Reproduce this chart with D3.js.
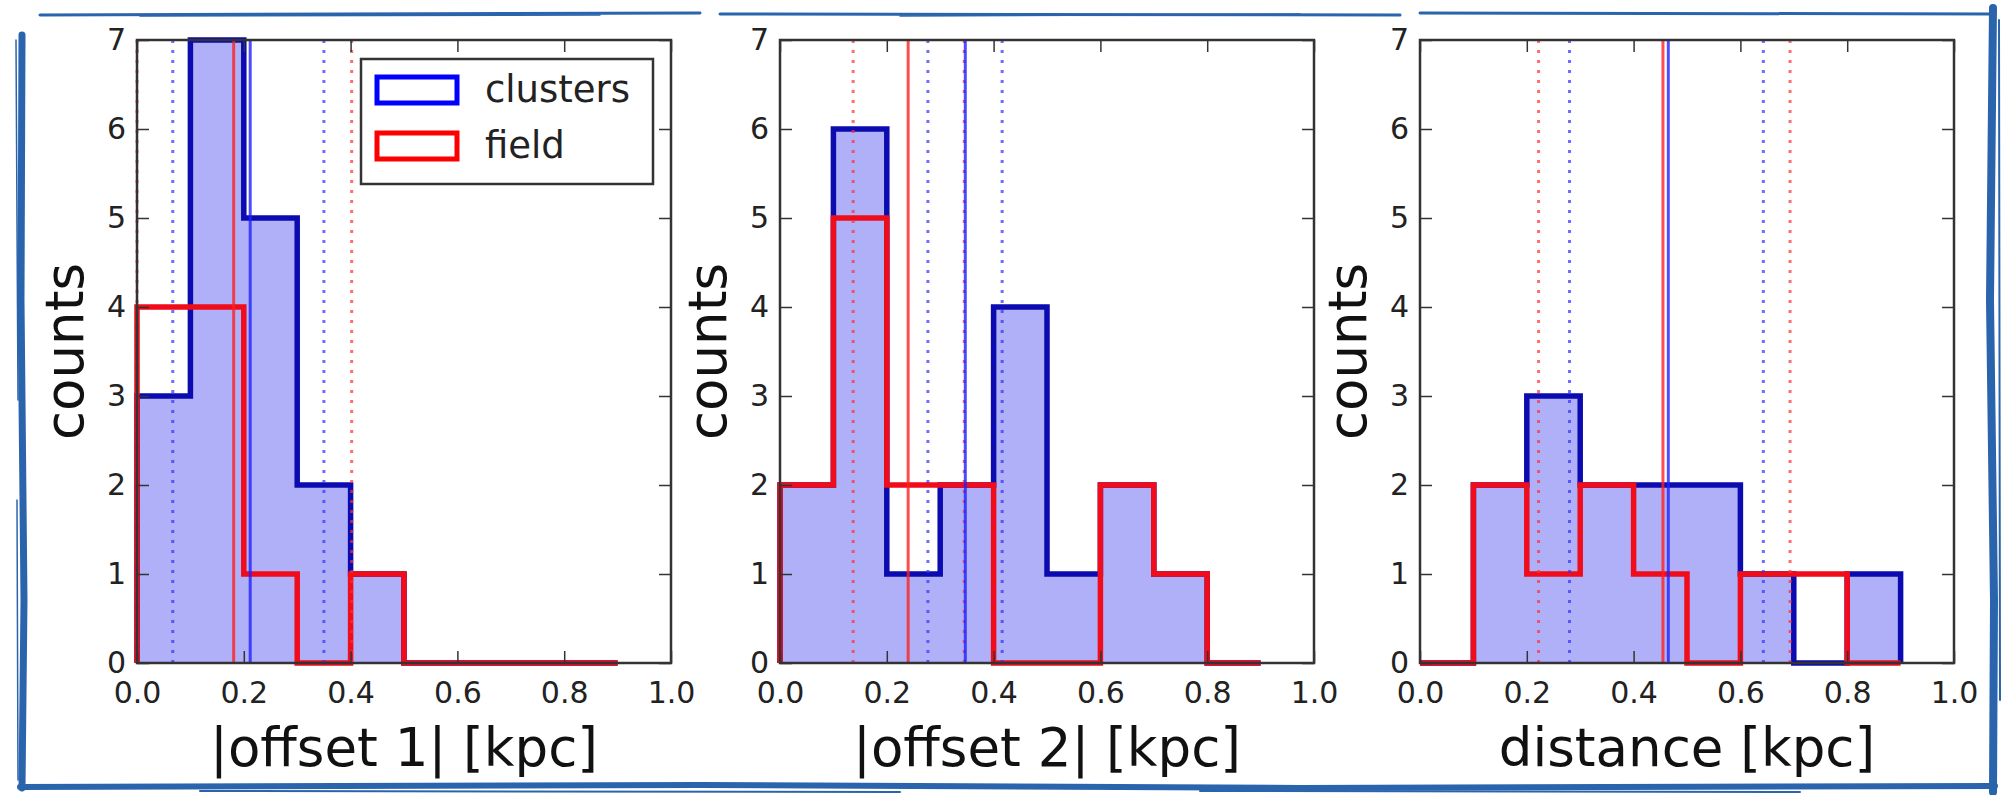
<!DOCTYPE html>
<html>
<head>
<meta charset="utf-8">
<script src="https://cdn.jsdelivr.net/npm/d3@7"></script>
<style>
  body { margin: 0; background: #fff; }
  svg { display: block; font-family: "DejaVu Sans", sans-serif; }
</style>
</head>
<body>
<div id="chart"></div>
<script>
// histogram data (bins of 0.1 kpc)
const binEdges = [0.0, 0.1, 0.2, 0.3, 0.4, 0.5, 0.6, 0.7, 0.8, 0.9];
const xLabels = ["|offset 1| [kpc]", "|offset 2| [kpc]", "distance [kpc]"];

const clusters1 = [3, 7, 5, 2, 1, 0, 0, 0, 0];
const field1    = [4, 4, 1, 0, 1, 0, 0, 0, 0];
const clusters2 = [2, 6, 1, 2, 4, 1, 2, 1, 0];
const field2    = [2, 5, 2, 2, 0, 0, 2, 1, 0];
const clusters3 = [0, 2, 3, 2, 2, 2, 1, 0, 1];
const field3    = [0, 2, 1, 2, 1, 0, 1, 1, 0];

// medians and the two percentile lines for each panel
const clustersMedian = [0.212, 0.347, 0.465];
const clustersLow    = [0.067, 0.277, 0.280];
const clustersHigh   = [0.350, 0.416, 0.643];
const fieldMedian    = [0.181, 0.240, 0.455];
const fieldLow       = [0.000, 0.137, 0.222];
const fieldHigh      = [0.402, 0.345, 0.693];

const xTicks = [0.0, 0.2, 0.4, 0.6, 0.8, 1.0];
const yTicks = [0, 1, 2, 3, 4, 5, 6, 7];
const legendNames = ["clusters", "field"];

const W = 2006, H = 795;
const panelX = [137, 780, 1420];
const panelW = 534;
const plotTop = 40, plotBottom = 663;

const blueEdge = "#0b0bb0", redEdge = "#f00c1a", blueFill = "#b0b0f8";

const svg = d3.select("#chart").append("svg")
  .attr("width", W)
  .attr("height", H);

svg.append("rect").attr("width", W).attr("height", H).attr("fill", "#fff");

// sketchy blue frame round the figure
const frame = svg.append("g")
  .attr("fill", "none")
  .attr("stroke", "#2a64ad")
  .attr("stroke-linecap", "round");
frame.append("path").attr("d", "M40,15 L700,13 M720,14 L1400,15 M1420,13 L1995,14").attr("stroke-width", 3);
frame.append("path").attr("d", "M140,16 L600,15 M900,16 L1300,14").attr("stroke-width", 1.5);
frame.append("path").attr("d", "M22,35 L21,300 L24,600 L22,788").attr("stroke-width", 7);
frame.append("path").attr("d", "M16,40 L18,400 M17,500 L18,780").attr("stroke-width", 1.5);
frame.append("path").attr("d", "M1993,8 L1990,300 L1994,600 L1993,792").attr("stroke-width", 8);
frame.append("path").attr("d", "M1999,20 L2000,700").attr("stroke-width", 2);
frame.append("path").attr("d", "M20,787 L700,785 L1300,788 L1995,786").attr("stroke-width", 6);
frame.append("path").attr("d", "M200,791 L900,792 M1200,791 L1800,792").attr("stroke-width", 2);

const y = d3.scaleLinear().domain([0, 7]).range([plotBottom, plotTop]);

const panels = [
  { clusters: clusters1, field: field1 },
  { clusters: clusters2, field: field2 },
  { clusters: clusters3, field: field3 }
];

// step outline like matplotlib histtype="step"
function stepPoints(counts) {
  const pts = [[binEdges[0], 0]];
  counts.forEach((c, i) => {
    pts.push([binEdges[i], c]);
    pts.push([binEdges[i + 1], c]);
  });
  pts.push([binEdges[counts.length], 0]);
  return pts;
}

panels.forEach((p, k) => {
  const x = d3.scaleLinear().domain([0, 1]).range([panelX[k], panelX[k] + panelW]);
  const g = svg.append("g");
  const line = d3.line().x(d => x(d[0])).y(d => y(d[1]));

  // filled clusters histogram
  g.append("path")
    .attr("d", line(stepPoints(p.clusters)) + "Z")
    .attr("fill", blueFill);

  g.append("path")
    .attr("d", line(stepPoints(p.clusters)))
    .attr("fill", "none")
    .attr("stroke", blueEdge)
    .attr("stroke-width", 5.5);

  g.append("path")
    .attr("d", line(stepPoints(p.field)))
    .attr("fill", "none")
    .attr("stroke", redEdge)
    .attr("stroke-width", 5.5);

  // median (solid) and percentile (dotted) lines
  const vlines = [
    { v: clustersLow[k], c: "#3030ff", dash: "3,7", o: 0.7 },
    { v: clustersHigh[k], c: "#3030ff", dash: "3,7", o: 0.7 },
    { v: fieldLow[k], c: "#ff3030", dash: "3,7", o: 0.7 },
    { v: fieldHigh[k], c: "#ff3030", dash: "3,7", o: 0.7 },
    { v: fieldMedian[k], c: "#ff2020", dash: null, o: 0.8 },
    { v: clustersMedian[k], c: "#2020ff", dash: null, o: 0.8 }
  ];
  g.selectAll(".vline")
    .data(vlines)
    .enter()
    .append("line")
      .attr("x1", d => x(d.v))
      .attr("x2", d => x(d.v))
      .attr("y1", y(0))
      .attr("y2", y(7))
      .attr("stroke", d => d.c)
      .attr("stroke-width", 3)
      .attr("stroke-opacity", d => d.o)
      .attr("stroke-dasharray", d => d.dash);

  // axes with inward ticks on all four sides
  g.append("g")
    .attr("transform", `translate(0,${plotBottom})`)
    .call(d3.axisBottom(x).tickValues(xTicks).tickFormat(d3.format(".1f")).tickSize(-12).tickPadding(19));
  g.append("g")
    .attr("transform", `translate(0,${plotTop})`)
    .call(d3.axisTop(x).tickValues(xTicks).tickFormat("").tickSize(-12));
  g.append("g")
    .attr("transform", `translate(${panelX[k]},0)`)
    .call(d3.axisLeft(y).tickValues(yTicks).tickFormat(d3.format("d")).tickSize(-12).tickPadding(11));
  g.append("g")
    .attr("transform", `translate(${panelX[k] + panelW},0)`)
    .call(d3.axisRight(y).tickValues(yTicks).tickFormat("").tickSize(-12));

  g.selectAll(".domain").remove();
  g.selectAll(".tick line").attr("stroke", "#333").attr("stroke-width", 1.5);
  g.selectAll(".tick text")
    .attr("fill", "#222")
    .style("font-size", "30px")
    .style("font-family", "DejaVu Sans");

  g.append("rect")
    .attr("x", panelX[k])
    .attr("y", plotTop)
    .attr("width", panelW)
    .attr("height", plotBottom - plotTop)
    .attr("fill", "none")
    .attr("stroke", "#333")
    .attr("stroke-width", 2.5);

  // axis titles
  g.append("text")
    .attr("transform", `translate(${panelX[k] - 54},${(plotTop + plotBottom) / 2}) rotate(-90)`)
    .attr("text-anchor", "middle")
    .attr("fill", "#111")
    .style("font-size", "53px")
    .text("counts");

  g.append("text")
    .attr("x", panelX[k] + panelW / 2)
    .attr("y", 766)
    .attr("text-anchor", "middle")
    .attr("fill", "#111")
    .style("font-size", "53px")
    .text(xLabels[k]);
});

// legend in the first panel
const legend = svg.append("g");
legend.append("rect")
  .attr("x", 361).attr("y", 59)
  .attr("width", 292).attr("height", 125)
  .attr("fill", "#fff")
  .attr("stroke", "#333")
  .attr("stroke-width", 2.5);

legendNames.forEach((name, i) => {
  legend.append("rect")
    .attr("x", 377).attr("y", 77 + i * 56)
    .attr("width", 80).attr("height", 26)
    .attr("fill", "none")
    .attr("stroke", i === 0 ? "#0000ff" : "#ff0000")
    .attr("stroke-width", 5);
  legend.append("text")
    .attr("x", 485).attr("y", 102 + i * 56)
    .attr("fill", "#222")
    .style("font-size", "37px")
    .text(name);
});
</script>
</body>
</html>
